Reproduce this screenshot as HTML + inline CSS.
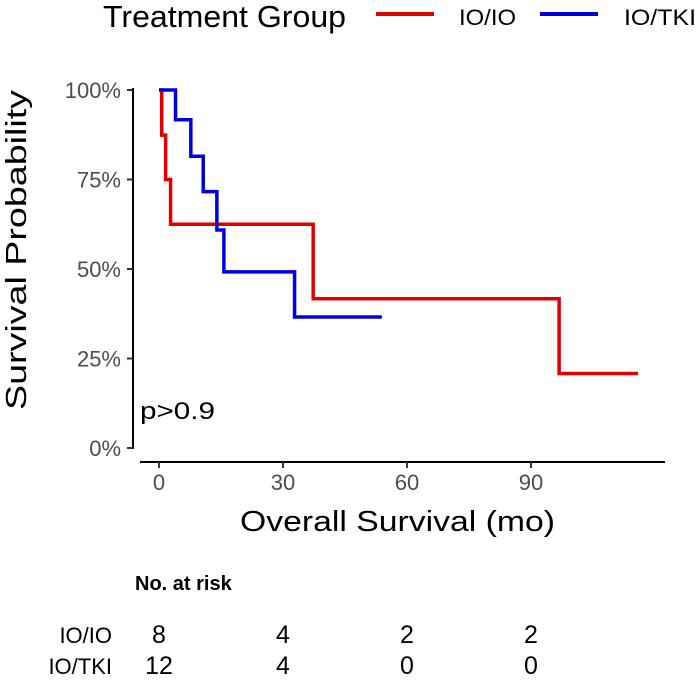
<!DOCTYPE html>
<html><head><meta charset="utf-8"><style>
body{margin:0;background:#fff;width:700px;height:688px;overflow:hidden}
svg{font-family:"Liberation Sans",Arial,sans-serif}
</style></head><body>
<svg id="c" width="700" height="688">
<g>
<text x="103" y="27" font-size="31" textLength="243" lengthAdjust="spacingAndGlyphs">Treatment Group</text>
<line x1="376" y1="14" x2="434" y2="14" stroke="#e00000" stroke-width="4"/>
<text x="459" y="25" font-size="22" textLength="57" lengthAdjust="spacingAndGlyphs">IO/IO</text>
<line x1="540" y1="14" x2="598" y2="14" stroke="#0000dd" stroke-width="4"/>
<text x="624" y="25" font-size="22" textLength="72" lengthAdjust="spacingAndGlyphs">IO/TKI</text>
</g>
<line x1="133" y1="88" x2="133" y2="449" stroke="#000" stroke-width="2"/>
<line x1="140" y1="462" x2="665" y2="462" stroke="#000" stroke-width="2"/>
<g id="yt"></g><g id="xt"></g><g id="series"></g>
<text transform="translate(26,250) rotate(-90)" text-anchor="middle" font-size="29" textLength="320" lengthAdjust="spacingAndGlyphs">Survival Probability</text>
<text x="240" y="531" font-size="29" textLength="315" lengthAdjust="spacingAndGlyphs">Overall Survival (mo)</text>
<text x="140" y="419" font-size="24" textLength="75" lengthAdjust="spacingAndGlyphs">p&gt;0.9</text>
<text x="135" y="590" font-size="20" font-weight="bold">No. at risk</text>
<g id="risk"></g>
</svg>
<script>
const xTicks=[0,30,60,90];
const yTicks=[0,0.25,0.5,0.75,1];
const ioioTimes=[0,0.65,1.6,2.8,37.3,96.8,115.9];
const ioioSurv=[1,0.874,0.75,0.625,0.417,0.208,0.208];
const iotkiTimes=[0,4.0,7.7,10.7,14.0,15.7,32.8,53.9];
const iotkiSurv=[1,0.917,0.815,0.716,0.609,0.492,0.366,0.366];
const groups=["IO/IO","IO/TKI"];
const riskIoio=[8,4,2,2];
const riskIotki=[12,4,0,0];
const X=t=>159+t*(531-159)/90;
const Y=s=>448-s*358;
const NS="http://www.w3.org/2000/svg";
function mk(tag,attrs,parent,txt){const e=document.createElementNS(NS,tag);for(const k in attrs)e.setAttribute(k,attrs[k]);if(txt!==undefined)e.textContent=txt;parent.appendChild(e);return e;}
const yt=document.getElementById('yt');
yTicks.forEach(v=>{
 const l=mk('line',{x1:127,x2:133,y1:Y(v),y2:Y(v),stroke:'#333','stroke-width':2},yt);
 
 
 const t=mk('text',{x:121,y:Y(v)+8,'text-anchor':'end','font-size':22,fill:'#4d4d4d'},yt,Math.round(v*100)+'%');
 
 
});
const xt=document.getElementById('xt');
xTicks.forEach(v=>{
 const l=mk('line',{x1:X(v),x2:X(v),y1:462,y2:468,stroke:'#333','stroke-width':2},xt);
 
 
 const t=mk('text',{x:X(v),y:490,'text-anchor':'middle','font-size':22,fill:'#4d4d4d'},xt,v);
 
 
});
function step(times,surv){let d='M'+X(times[0])+','+Y(surv[0]);for(let i=1;i<times.length;i++){d+=' H'+X(times[i])+' V'+Y(surv[i]);}return d;}
const sg=document.getElementById('series');
const p1=mk('path',{d:step(ioioTimes,ioioSurv),fill:'none',stroke:'#e00000','stroke-width':3.5},sg);


const p2=mk('path',{d:step(iotkiTimes,iotkiSurv),fill:'none',stroke:'#0000dd','stroke-width':3.5},sg);


const rg=document.getElementById('risk');
[riskIoio,riskIotki].forEach((row,i)=>{
 const y=[643,674][i];
 const lb=mk('text',{x:112,y:y,'text-anchor':'end','font-size':22},rg,groups[i]);
 
 
 row.forEach((n,j)=>{
  const t=mk('text',{x:X(xTicks[j]),y:y,'text-anchor':'middle','font-size':25},rg,n);
  
  
 });
});
</script>
</body></html>
